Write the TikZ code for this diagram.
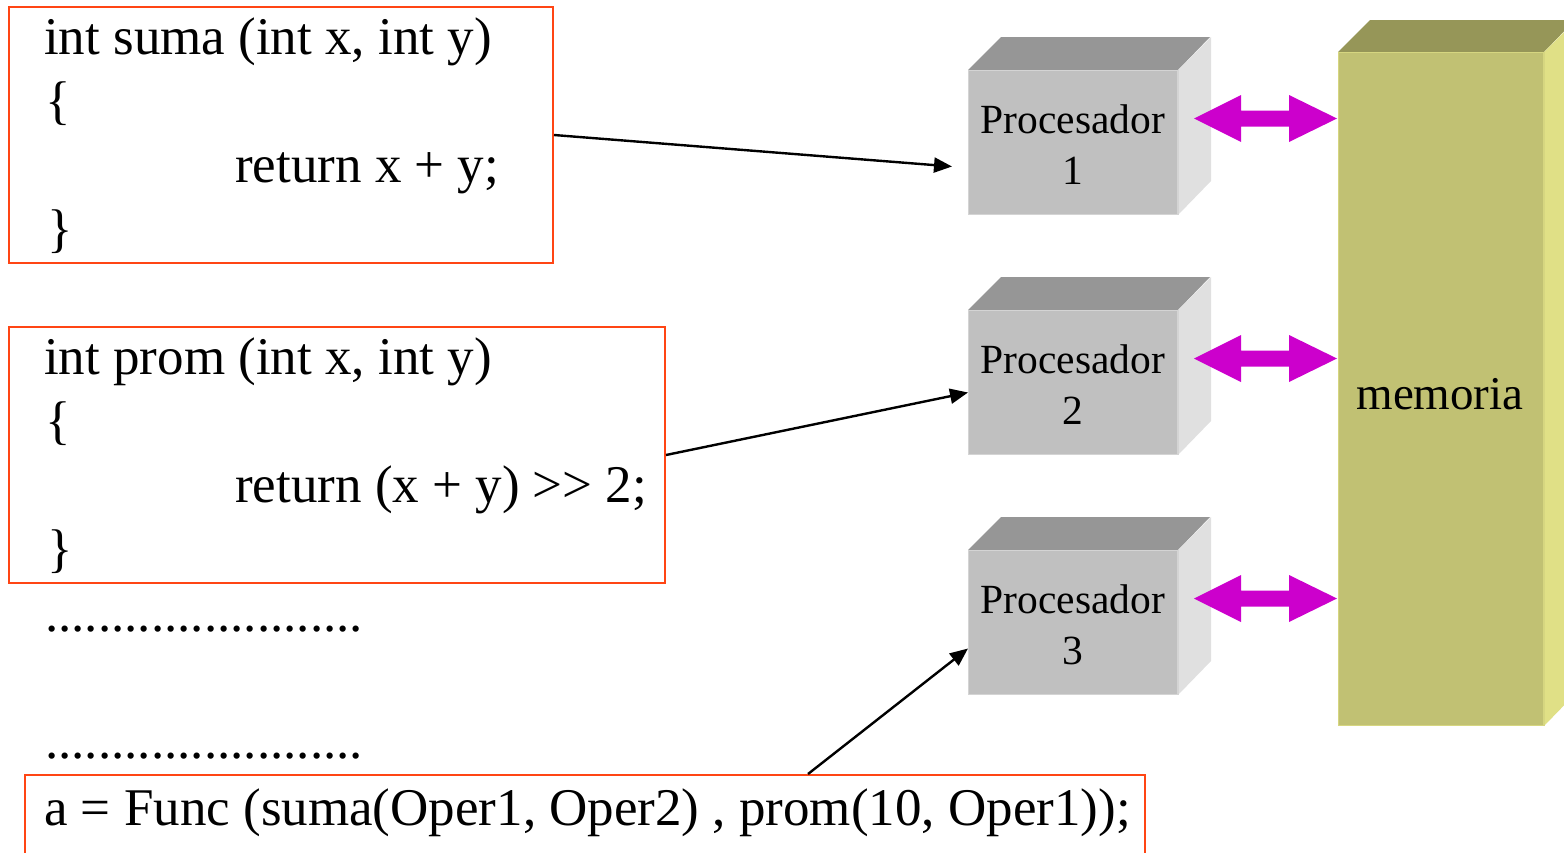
\documentclass[tikz,border=0pt]{standalone}
\usepackage{fontspec}
\setmainfont{Liberation Serif}
\usetikzlibrary{arrows.meta,calc}

\definecolor{boxred}{RGB}{255,69,20}
\definecolor{procfront}{RGB}{192,192,192}
\definecolor{proctop}{RGB}{150,150,150}
\definecolor{procside}{RGB}{224,224,224}
\definecolor{procedge}{RGB}{212,212,212}
\definecolor{memfront}{RGB}{193,193,115}
\definecolor{memtop}{RGB}{150,150,88}
\definecolor{memside}{RGB}{224,224,134}
\definecolor{memedge}{RGB}{214,214,128}
\definecolor{busmag}{RGB}{204,0,204}

\tikzset{
  codebox/.style={draw=boxred, line width=2pt, inner sep=0pt},
  codeline/.style={anchor=base west, inner sep=0pt, font=\fontsize{53}{64}\selectfont},
  procbox/.style={fill=procfront, draw=procedge, line width=1pt, inner sep=0pt,
    minimum width=209pt, minimum height=144pt, anchor=north west},
  proclabel/.style={anchor=base, inner sep=0pt, font=\fontsize{41.5}{50}\selectfont},
  membox/.style={fill=memfront, draw=memedge, line width=1pt, inner sep=0pt,
    minimum width=205pt, minimum height=673pt, anchor=north west},
  memlabel/.style={anchor=base, inner sep=0pt, font=\fontsize{47}{56}\selectfont},
  conn/.style={line width=2.4pt, -{Triangle[length=18pt,width=15pt]}},
  bus/.style={fill=busmag},
}

\begin{document}
\begin{tikzpicture}[x=1pt,y=-1pt]
\useasboundingbox (0,0) rectangle (1564,852);
\clip (0,0) rectangle (1564,852);

% function suma
\node[codebox, minimum width=544pt, minimum height=256pt, anchor=north west] (f1) at (8,6) {};
\node[codeline] (f1a) at (44,54) {int suma (int x, int y)};
\node[codeline] (f1b) at (45,118) {\{};
\node[codeline] (f1c) at (235,182) {return x + y;};
\node[codeline] (f1d) at (47,246) {\}};

% function prom
\node[codebox, minimum width=656pt, minimum height=256pt, anchor=north west] (f2) at (8,326) {};
\node[codeline] (f2a) at (44,374) {int prom (int x, int y)};
\node[codeline] (f2b) at (45,438) {\{};
\node[codeline] (f2c) at (235,502) {return (x + y) >{}> 2;};
\node[codeline] (f2d) at (47,566) {\}};

% elided code
\node[codeline] (dots1) at (45,631) {........................};
\node[codeline] (dots2) at (45,758) {........................};

% call site
\node[codebox, minimum width=1120pt, minimum height=130pt, anchor=north west] (f3) at (24,774) {};
\node[codeline] (f3a) at (44,825) {a = Func (suma(Oper1, Oper2) , prom(10, Oper1));};

% processors
\foreach \i in {1,2,3} {
  \node[procbox] (p\i) at (968,{70+240*(\i-1)}) {};
  \fill[proctop] (p\i.north west) -- ++(33,-33) -- ++(209,0) -- (p\i.north east) -- cycle;
  \fill[procside] (p\i.north east) -- ++(33,-33) -- ++(0,144) -- (p\i.south east) -- cycle;
  \draw[procedge, line width=1pt] (p\i.north west) -- (p\i.north east) -- (p\i.south east);
  \node[proclabel] (pl\i) at ($(p\i.north)+(0,63)$) {Procesador};
  \node[proclabel] (pn\i) at ($(p\i.north)+(0,114)$) {\i};
}

% shared memory
\node[membox] (mem) at (1338,52) {};
\fill[memtop] (mem.north west) -- ++(32,-32) -- ++(205,0) -- (mem.north east) -- cycle;
\fill[memside] (mem.north east) -- ++(32,-32) -- ++(0,673) -- (mem.south east) -- cycle;
\draw[memedge, line width=1pt] (mem.north west) -- (mem.north east) -- (mem.south east);
\node[memlabel] (meml) at (1440,409) {memoria};

% processor <-> memory links (double-headed block arrows)
\foreach \i in {1,2,3} {
  \fill[bus] ($(p\i.north east)+(16,48.5)$) -- ++(47,-23.5) -- ++(0,15.5) -- ++(48,0)
    -- ++(0,-15.5) -- ++(48,23.5) -- ++(-48,23.5) -- ++(0,-15.5) -- ++(-48,0)
    -- ++(0,15.5) -- cycle;
}

% tasks dispatched to processors
\coordinate (t1) at ($(p1.west)+(-16,24)$);
\coordinate (t2) at ($(p2.west)+(0,10)$);
\coordinate (t3) at ($(p3.west)+(0,26)$);
\coordinate (s3) at ($(f3.north west)+(784,0)$);
\draw[conn] (f1.east) -- (t1);
\draw[conn] (f2.east) -- (t2);
\draw[conn] (s3) -- (t3);
\end{tikzpicture}
\end{document}
